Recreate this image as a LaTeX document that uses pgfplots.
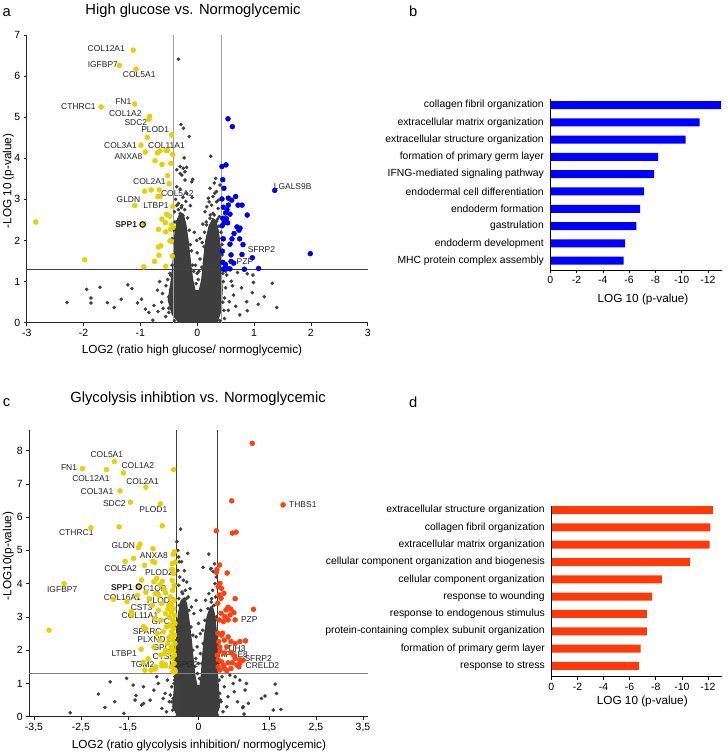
\documentclass[border=0pt]{standalone}
\usepackage{fontspec}
\setmainfont{Liberation Sans}
\usepackage{pgfplots}
\pgfplotsset{compat=1.18}

\definecolor{dgrey}{RGB}{62,62,62}
\definecolor{yel}{RGB}{232,208,0}
\definecolor{bpt}{RGB}{0,0,240}
\definecolor{bbar}{RGB}{0,0,255}
\definecolor{rpt}{RGB}{255,64,16}
\definecolor{rbar}{RGB}{255,58,10}
\definecolor{lgrey}{RGB}{160,160,160}

\newcommand{\gene}{\fontsize{8.5}{9}\selectfont}
\newcommand{\axlab}{\fontsize{11.8}{13}\selectfont}
\newcommand{\ttl}{\fontsize{14.8}{16}\selectfont}

\pgfplotsset{
  volc/.style={
    scale only axis, clip=false,
    axis lines=left, axis line style={-, black!85, line width=0.8bp},
    tick align=outside, major tick length=3bp,
    tick style={black!85, line width=0.6bp},
    tick label style={font=\fontsize{10.5}{12}\selectfont},
    /pgf/number format/assume math mode=true,
  },
  greyp/.style={only marks, mark=*, mark size=1.6bp, color=dgrey},
  yelp/.style={only marks, mark=*, mark size=2.5bp, color=yel},
  gobar/.style={
    scale only axis, clip=false, xbar, bar width=8bp,
    y dir=reverse, x dir=reverse, xmin=-13.05, xmax=0,
    ytick={1,...,10}, xtick={0,-2,...,-12},
    axis x line*=bottom, axis y line*=left,
    axis line style={-, black, line width=0.9bp},
    tick align=outside, major tick length=3bp,
    ytick style={draw=none},
    tick style={black, line width=0.6bp},
    tick label style={font=\fontsize{10.5}{12}\selectfont},
    yticklabel style={font=\fontsize{10.4}{12}\selectfont},
    /pgf/number format/assume math mode=true,
  },
}

\begin{document}
\begin{tikzpicture}
\path[use as bounding box] (0bp,0bp) rectangle (728bp,753bp);

% ---------- panel a ----------
\begin{axis}[volc, at={(26.7bp,430.3bp)}, anchor=south west,
  width=341bp, height=287.7bp,
  xmin=-3, xmax=3, ymin=0, ymax=7,
  xtick={-3,...,3}, ytick={0,...,7}]
\addplot[fill=dgrey, draw=none] coordinates {
 (-0.33,0) (-0.45,0.2) (-0.52,0.55) (-0.47,1.0) (-0.44,1.4) (-0.42,1.8) (-0.40,2.2)
 (-0.36,2.5) (-0.30,2.7) (-0.24,2.65) (-0.19,2.4) (-0.15,2.0) (-0.11,1.5) (-0.07,1.05)
 (-0.03,0.8) (0.03,0.8) (0.07,1.05) (0.10,1.5) (0.14,2.0) (0.20,2.35) (0.27,2.55)
 (0.33,2.5) (0.38,2.25) (0.42,1.8) (0.43,1.3) (0.45,0.8) (0.43,0.3) (0.36,0)};
\addplot[greyp] coordinates {
 (-0.33,6.41) (-0.285,4.82) (-0.24,4.73) (-0.14,4.53) (0.24,4.05) (-0.23,4.01)
 (-0.30,3.80) (-0.245,3.76) (-0.185,3.78) (-0.36,3.72) (-0.215,3.67) (-0.27,3.59)
 (-0.08,3.49) (-0.30,3.63) (-0.215,3.47) (-0.097,3.43) (-0.36,3.31) (-0.185,3.15)
 (-0.30,3.25) (-0.25,3.05) (-0.38,3.0) (-0.33,2.9) (-0.20,2.95) (-0.12,2.85)
 (-0.28,2.80) (-0.40,2.70) (-0.36,2.85) (-0.09,3.05)
 (0.325,3.51) (0.30,3.40) (0.225,3.27) (0.31,3.15) (0.195,3.03) (0.34,2.94)
 (0.255,2.86) (0.37,2.78) (0.137,2.70) (0.28,2.66) (0.39,2.58) (0.225,2.54)
 (0.34,2.46) (0.167,2.38) (0.28,3.07) (0.34,3.19) (0.17,2.82) (0.37,2.98)
 (0.21,2.94) (0.40,3.35) (0.10,2.40) (0.05,2.05) (-0.05,2.20) (0.0,1.70)
 (-0.03,1.40) (0.03,1.25)
 (-1.945,0.81) (-2.29,0.49) (-1.87,0.60) (-1.87,0.48) (-1.71,0.86) (-1.58,0.49)
 (-1.46,0.37) (-1.335,0.57) (-1.22,0.92) (-1.15,0.83) (-1.05,0.48) (-0.98,0.57)
 (-0.91,0.33) (-0.85,0.25) (-0.78,0.06) (-0.76,0.42) (-0.70,0.79) (-0.69,0.27)
 (-0.61,0.71) (-0.625,0.50) (-0.555,0.15) (-0.50,0.63) (-0.52,1.05) (-0.55,0.90)
 (-0.60,0.35) (-0.50,0.25) (-0.48,1.20) (-0.66,1.00)
 (0.52,1.16) (0.60,1.01) (0.99,0.98) (0.98,1.16) (1.32,0.96) (1.18,0.63)
 (1.075,0.45) (1.40,0.37) (0.88,0.29) (0.75,0.19) (0.64,0.67) (0.565,0.51)
 (0.71,1.22) (0.88,1.19) (0.97,0.73) (0.87,0.51) (0.50,0.85) (0.55,0.30)
 (0.48,0.60) (0.68,0.40) (0.62,0.90) (0.50,1.25) (0.78,0.85) (0.48,0.10)
 (-0.44,1.4) (-0.40,1.95) (-0.41,2.25) (-0.36,2.45) (-0.30,2.65) (-0.25,2.6)
 (-0.47,0.8) (-0.45,0.5) (0.44,1.9) (0.42,2.2) (0.38,2.35) (0.44,1.45)
 (0.46,1.0) (0.45,0.5) (-0.12,1.9) (-0.08,1.4) (0.08,1.35) (0.12,1.85)
 (-0.17,2.55) (-0.14,2.25) (-0.22,2.75) (-0.10,1.75) (-0.06,1.25) (0.02,1.05)
 (-0.02,0.95) (0.05,1.55) (0.09,1.95) (0.16,2.45) (0.13,2.2) (0.23,2.62)
 (0.30,2.62) (0.36,2.52) (0.41,2.35) (0.43,2.05) (0.44,1.65) (0.45,1.2)
 (-0.43,1.65) (-0.44,2.05) (-0.39,2.45) (-0.33,2.75) (-0.27,2.85) (-0.46,1.15)
 (-0.5,0.35) (0.47,0.3) (0.40,0.05) (-0.40,0.05) (0.0,1.2) (-0.01,2.0)};
\draw[lgrey, line width=1.5bp] (axis cs:-0.42,0) -- (axis cs:-0.42,7);
\draw[lgrey, line width=1.5bp] (axis cs:0.43,0) -- (axis cs:0.43,7);
\draw[black!75, line width=0.8bp] (axis cs:-3,1.3) -- (axis cs:3,1.3);
\addplot[yelp] coordinates {
 (-1.124,6.63) (-1.37,6.26) (-1.077,6.17) (-1.69,5.25) (-1.10,5.32) (-0.836,5.02)
 (-0.848,4.95) (-0.449,4.57) (-0.878,4.51) (-0.989,4.32) (-0.70,4.13) (-0.655,4.18)
 (-0.549,4.19) (-0.52,4.19) (-0.43,4.09) (-0.913,4.15) (-0.743,3.94) (-0.62,3.85)
 (-0.466,3.88) (-0.52,3.58) (-0.49,3.38) (-0.925,3.20) (-0.81,3.23) (-0.667,3.23)
 (-0.69,3.07) (-0.655,3.07) (-1.10,2.85) (-0.43,2.83) (-0.537,2.64) (-0.484,2.59)
 (-0.62,2.52) (-0.56,2.43) (-0.449,2.38) (-0.426,2.32) (-0.47,2.27) (-0.68,2.27)
 (-0.555,2.21) (-2.84,2.45) (-0.479,1.99) (-0.455,1.98) (-0.68,1.84) (-0.64,1.87)
 (-0.672,1.64) (-0.44,1.62) (-1.98,1.53) (-0.75,1.49) (-0.94,1.36) (-0.555,1.37)};
\addplot[only marks, mark=*, mark size=2.8bp, mark options={fill=yel, draw=black, line width=1bp}]
 coordinates {(-0.96,2.39)};
\addplot[only marks, mark=*, mark size=2.5bp, color=bpt] coordinates {
 (0.542,4.96) (0.618,4.77) (0.507,3.84) (0.436,3.80) (0.449,3.48) (0.47,3.27)
 (1.364,3.22) (0.436,3.01) (0.548,3.03) (0.607,2.98) (0.677,3.07) (0.718,2.86)
 (0.79,2.86) (0.46,2.81) (0.548,2.86) (0.524,2.75) (0.50,2.67) (0.577,2.64)
 (0.88,2.62) (0.45,2.54) (0.512,2.53) (0.477,2.43) (0.536,2.43) (0.44,2.36)
 (0.70,2.33) (0.753,2.30) (0.735,2.25) (0.648,2.17) (0.46,2.04) (0.612,2.04)
 (0.747,2.04) (0.577,1.91) (0.806,1.90) (0.442,1.74) (0.595,1.65) (0.788,1.66)
 (0.97,1.58) (1.99,1.68) (0.45,1.47) (0.495,1.42) (0.595,1.49) (0.642,1.45)
 (0.46,1.30) (0.52,1.32) (0.577,1.31) (0.83,1.30) (1.08,1.32) (0.495,1.36)};
\begin{scope}[every node/.style={font=\gene, text=black!85, inner sep=0pt}]
\node at (axis cs:-1.60,6.68) {COL12A1};
\node at (axis cs:-1.66,6.29) {IGFBP7};
\node at (axis cs:-1.02,6.03) {COL5A1};
\node at (axis cs:-2.09,5.26) {CTHRC1};
\node at (axis cs:-1.30,5.38) {FN1};
\node at (axis cs:-1.265,5.08) {COL1A2};
\node at (axis cs:-1.08,4.88) {SDC2};
\node at (axis cs:-0.74,4.69) {PLOD1};
\node at (axis cs:-1.35,4.32) {COL3A1};
\node at (axis cs:-0.54,4.32) {COL11A1};
\node at (axis cs:-1.21,4.04) {ANXA8};
\node at (axis cs:-0.84,3.43) {COL2A1};
\node at (axis cs:-0.35,3.15) {COL5A2};
\node at (axis cs:-1.21,3.00) {GLDN};
\node at (axis cs:-0.725,2.86) {LTBP1};
\node[font=\gene\bfseries] at (axis cs:-1.25,2.39) {SPP1};
\node at (axis cs:1.68,3.31) {LGALS9B};
\node at (axis cs:1.13,1.77) {SFRP2};
\node at (axis cs:0.84,1.48) {PZP};
\end{scope}
\end{axis}

% ---------- panel c ----------
\begin{axis}[volc, at={(29.3bp,36.3bp)}, anchor=south west,
  width=338.4bp, height=286.7bp,
  xmin=-3.6, xmax=3.6, ymin=0, ymax=8.62,
  xtick={-3.5,-2.5,-1.5,0,1.5,2.5,3.5},
  xticklabels={{-3,5},{-2,5},{-1,5},0,{1,5},{2,5},{3,5}},
  ytick={0,...,8}]
\addplot[fill=dgrey, draw=none] coordinates {
 (-0.45,0) (-0.56,0.3) (-0.53,0.8) (-0.50,1.4) (-0.49,2.0) (-0.47,2.6) (-0.44,3.1)
 (-0.38,3.5) (-0.30,3.6) (-0.24,3.4) (-0.19,2.9) (-0.14,2.3) (-0.10,1.7) (-0.06,1.2)
 (-0.02,0.95) (0.02,0.95) (0.05,1.3) (0.08,1.9) (0.12,2.5) (0.17,3.0) (0.24,3.3)
 (0.30,3.35) (0.35,3.1) (0.39,2.6) (0.40,2.0) (0.41,1.4) (0.44,0.8) (0.46,0.3) (0.38,0)};
\addplot[greyp] coordinates {
 (-0.38,5.64) (-0.46,5.26) (-0.23,4.91) (-0.36,4.66) (-0.41,4.66) (-0.30,4.39)
 (0.10,4.49) (0.22,4.89) (0.27,4.46) (0.31,4.36) (0.26,4.44) (-0.44,5.0)
 (-0.40,4.2) (-0.32,4.1) (-0.25,4.05) (-0.42,3.95) (-0.28,3.8) (-0.35,3.75)
 (-0.18,3.85) (-0.22,3.6) (-0.15,3.3) (-0.10,3.1) (0.35,4.0) (0.30,3.8)
 (0.22,3.7) (0.36,3.6) (0.15,3.5) (0.28,3.55) (0.05,3.2) (0.38,4.2) (0.34,4.6)
 (-0.05,3.5) (-0.44,4.4) (-0.42,4.8) (0.0,2.8) (-0.05,2.4) (0.04,2.5)
 (-2.73,0.12) (-2.13,0.68) (-1.99,0.28) (-1.88,1.05) (-1.78,0.45) (-1.59,0.10)
 (-1.33,0.64) (-1.17,0.90) (-1.21,0.35) (-1.03,0.50) (-0.95,0.80) (-0.855,1.00)
 (-0.78,0.25) (-0.71,0.70) (-0.62,0.45) (-0.57,0.90) (-0.55,0.20) (-0.89,1.20)
 (-0.66,1.10) (-1.53,1.15) (-1.39,0.95) (-1.35,0.50) (-1.17,0.40) (-0.60,0.65)
 (-0.52,1.0) (-0.75,0.55) (-0.68,0.15) (-0.54,0.55) (-0.50,1.2)
 (0.78,1.20) (0.74,1.00) (0.88,1.10) (0.76,0.75) (0.99,0.80) (1.06,0.40)
 (1.34,0.55) (1.415,0.62) (1.63,0.98) (1.66,0.70) (1.59,0.20) (1.755,0.22)
 (0.94,0.27) (0.97,0.08) (0.63,0.60) (0.60,0.30) (0.83,0.45) (1.02,1.0)
 (0.95,0.30) (0.50,1.2) (0.55,0.90) (0.48,0.45) (0.67,1.25) (0.52,0.15) (0.45,0.7)
 (-0.49,1.7) (-0.47,2.3) (-0.45,2.9) (-0.41,3.35) (0.40,1.8) (0.39,2.4) (0.36,2.9)
 (-0.12,2.0) (-0.08,1.5) (0.07,1.6) (0.10,2.2)
 (-0.20,3.2) (-0.16,2.7) (-0.12,2.45) (-0.26,3.55) (-0.34,3.7) (-0.42,3.55)
 (-0.06,1.75) (-0.02,1.3) (0.02,1.15) (0.04,1.9) (0.09,2.6) (0.14,2.9)
 (0.20,3.25) (0.27,3.45) (0.33,3.35) (0.38,3.0) (0.41,2.2) (0.42,1.6)
 (0.44,1.1) (0.47,0.5) (-0.51,1.1) (-0.52,1.6) (-0.50,2.2) (-0.48,2.7)
 (-0.57,0.45) (0.40,0.05) (-0.45,0.05) (0.0,1.6) (-0.03,2.1)};
\draw[black!75, line width=0.8bp] (axis cs:-0.48,0) -- (axis cs:-0.48,8.62);
\draw[black!75, line width=0.8bp] (axis cs:0.40,0) -- (axis cs:0.40,8.62);
\draw[black!50, line width=0.9bp] (axis cs:-3.6,1.3) -- (axis cs:3.6,1.3);
\addplot[yelp] coordinates {
 (-1.79,7.67) (-2.47,7.46) (-1.96,7.43) (-1.60,7.33) (-0.53,7.43) (-1.12,6.90)
 (-1.67,6.79) (-1.45,6.45) (-0.81,6.40) (-2.29,5.68) (-1.69,5.71) (-0.77,5.74)
 (-1.245,5.19) (-1.28,5.08) (-0.97,5.05) (-0.51,4.96) (-0.54,4.88) (-1.38,4.76)
 (-1.56,4.67) (-1.145,4.55) (-0.975,4.67) (-0.93,4.64) (-0.56,4.60) (-0.49,4.65)
 (-0.57,4.43) (-2.86,4.00) (-1.81,3.53) (-1.52,3.46) (-1.43,3.16) (-3.18,2.60)
 (-1.22,2.03) (-1.07,1.74) (-1.14,1.40) (-0.93,1.43) (-0.78,1.53) (-0.70,1.53)
 (-0.50,1.35)
 (-1.21,4.11) (-1.12,3.74) (-0.95,4.06) (-0.89,4.16) (-0.77,4.07) (-0.82,3.97)
 (-0.73,3.83) (-0.92,3.70) (-0.85,3.65) (-0.70,3.72) (-0.55,4.42) (-0.53,4.30)
 (-0.56,4.10) (-0.52,3.95) (-0.55,3.80) (-0.60,3.60) (-0.52,3.50) (-0.57,3.40)
 (-0.63,3.35) (-0.53,3.25) (-0.58,3.15) (-0.51,3.05) (-0.62,3.00) (-0.55,2.90)
 (-0.50,2.80) (-0.60,2.75) (-0.53,2.65) (-0.57,2.55) (-0.51,2.45) (-0.62,2.40)
 (-0.55,2.30) (-0.50,2.20) (-0.58,2.10) (-0.53,2.00) (-0.60,1.95) (-0.51,1.85)
 (-0.56,1.75) (-0.52,1.60) (-0.58,1.50) (-0.50,1.40) (-0.54,1.35)
 (-1.42,3.06) (-1.17,2.71) (-1.12,2.64) (-1.17,1.64) (-1.01,1.40) (-0.91,1.50)
 (-0.78,1.62) (-0.71,1.58) (-0.80,1.85) (-0.72,1.90) (-0.82,2.30) (-0.75,2.55)
 (-0.88,2.50) (-0.80,2.90) (-0.70,3.10) (-0.65,3.25) (-0.85,3.20) (-0.98,3.35)
 (-1.05,3.55) (-0.78,3.40) (-0.68,2.70) (-0.66,2.20) (-0.70,2.00) (-0.95,2.10)
 (-0.93,2.95) (-1.30,3.65)};
\addplot[only marks, mark=*, mark size=2.8bp, mark options={fill=yel, draw=black, line width=1bp}]
 coordinates {(-1.27,3.91)};
\addplot[only marks, mark=*, mark size=2.5bp, color=rpt] coordinates {
 (1.145,8.22) (1.80,6.37) (0.706,6.49) (0.38,5.59) (0.72,5.52) (0.80,5.55)
 (0.45,4.56) (0.39,4.42) (0.38,4.34) (0.61,4.32) (0.457,4.01) (0.42,3.91)
 (0.49,3.86) (0.54,3.71) (0.44,3.66) (0.48,3.56) (0.78,3.55) (0.41,3.41)
 (0.63,3.29) (0.69,3.23) (0.585,3.21) (0.755,3.13) (1.17,3.23) (0.48,3.11)
 (0.56,3.01) (0.67,3.06) (0.44,2.91) (0.53,2.86) (0.63,2.91) (0.78,2.91)
 (0.41,2.51) (0.49,2.45) (0.63,2.40) (0.55,2.30) (0.43,2.26) (0.69,2.26)
 (1.0,2.28) (0.78,2.20) (0.88,2.26) (0.60,2.10) (0.46,1.98) (0.55,1.91)
 (0.69,1.93) (0.78,1.75) (0.88,1.71) (0.42,1.71) (0.49,1.65) (0.63,1.62)
 (0.82,1.55) (0.86,1.50) (0.42,1.50) (0.55,1.45) (0.69,1.45) (0.45,1.40)
 (0.60,1.38) (0.51,2.51) (0.88,1.61) (0.75,1.85) (0.95,1.70) (0.40,1.85)
 (0.45,2.10) (0.53,1.55) (0.72,1.62)};
\begin{scope}[every node/.style={font=\gene, text=black!85, inner sep=0pt}]
\node at (axis cs:-1.95,7.89) {COL5A1};
\node at (axis cs:-2.755,7.49) {FN1};
\node at (axis cs:-1.29,7.54) {COL1A2};
\node at (axis cs:-2.29,7.17) {COL12A1};
\node at (axis cs:-1.19,7.07) {COL2A1};
\node at (axis cs:-2.16,6.77) {COL3A1};
\node at (axis cs:-1.79,6.40) {SDC2};
\node at (axis cs:-0.96,6.22) {PLOD1};
\node at (axis cs:-2.60,5.53) {CTHRC1};
\node at (axis cs:-1.60,5.13) {GLDN};
\node at (axis cs:-0.95,4.85) {ANXA8};
\node at (axis cs:-1.655,4.44) {COL5A2};
\node at (axis cs:-0.84,4.34) {PLOD2};
\node at (axis cs:-2.90,3.81) {IGFBP7};
\node[font=\gene\bfseries] at (axis cs:-1.63,3.88) {SPP1};
\node at (axis cs:-0.925,3.84) {C1QB};
\node at (axis cs:-1.62,3.59) {COL16A1};
\node at (axis cs:-0.80,3.48) {PLOD3};
\node at (axis cs:-1.21,3.29) {CST3};
\node at (axis cs:-1.245,3.04) {COL11A1};
\node at (axis cs:-0.75,2.86) {GPC1};
\node at (axis cs:-1.09,2.56) {SPARC};
\node at (axis cs:-0.95,2.31) {PLXND1};
\node at (axis cs:-0.73,2.09) {GPC4};
\node at (axis cs:-1.58,1.89) {LTBP1};
\node at (axis cs:-0.73,1.80) {CTSH};
\node at (axis cs:-1.19,1.58) {TGM2};
\node at (axis cs:-0.31,1.58) {HSPG2};
\node at (axis cs:2.22,6.39) {THBS1};
\node at (axis cs:1.08,2.93) {PZP};
\node at (axis cs:0.78,2.06) {ITIH3};
\node at (axis cs:0.74,1.86) {MFGE8};
\node at (axis cs:1.27,1.74) {SFRP2};
\node at (axis cs:1.36,1.55) {CRELD2};
\end{scope}
\end{axis}

% ---------- panel b ----------
\begin{axis}[gobar, at={(550.3bp,483bp)}, anchor=south west,
  width=171.4bp, height=171bp, ymin=0.65, ymax=10.54,
  yticklabels={collagen fibril organization, extracellular matrix organization,
   extracellular structure organization, formation of primary germ layer,
   IFNG-mediated signaling pathway, endodermal cell differentiation,
   endoderm formation, gastrulation, endoderm development,
   MHC protein complex assembly}]
\addplot[fill=bbar, draw=none] coordinates {
 (-13.0,1) (-11.37,2) (-10.3,3) (-8.2,4) (-7.9,5)
 (-7.14,6) (-6.84,7) (-6.56,8) (-5.70,9) (-5.59,10)};
\draw[black, line width=0.9bp] (axis cs:0,0.65) -- (axis cs:0,10.54);
\end{axis}

% ---------- panel d ----------
\begin{axis}[gobar, at={(551.3bp,76.3bp)}, anchor=south west,
  width=170.4bp, height=171bp, ymin=0.75, ymax=10.62,
  yticklabels={extracellular structure organization, collagen fibril organization,
   extracellular matrix organization, cellular component organization and biogenesis,
   cellular component organization, response to wounding,
   response to endogenous stimulus, protein-containing complex subunit organization,
   formation of primary germ layer, response to stress}]
\addplot[fill=rbar, draw=none] coordinates {
 (-12.38,1) (-12.18,2) (-12.13,3) (-10.62,4) (-8.46,5)
 (-7.72,6) (-7.31,7) (-7.31,8) (-6.85,9) (-6.73,10)};
\draw[black, line width=0.9bp] (axis cs:0,0.75) -- (axis cs:0,10.62);
\end{axis}

% ---------- titles and labels ----------
\node[font=\ttl] at (193bp,742bp) {High glucose vs. Normoglycemic};
\node[font=\ttl] at (198bp,354.5bp) {Glycolysis inhibtion vs. Normoglycemic};
\node[font=\ttl] at (6.7bp,740bp) {a};
\node[font=\ttl] at (413.3bp,741.3bp) {b};
\node[font=\ttl] at (6.5bp,350bp) {c};
\node[font=\ttl] at (413.3bp,350.3bp) {d};
\node[font=\axlab] at (192bp,403bp) {LOG2 (ratio high glucose/ normoglycemic)};
\node[font=\axlab, rotate=90] at (8.3bp,572bp) {-LOG 10 (p-value)};
\node[font=\axlab] at (199bp,8bp) {LOG2 (ratio glycolysis inhibition/ normoglycemic)};
\node[font=\axlab, rotate=90] at (8.3bp,197bp) {-LOG10(p-value)};
\node[font=\axlab] at (643bp,454bp) {LOG 10 (p-value)};
\node[font=\axlab] at (642.3bp,52bp) {LOG 10 (p-value)};
\end{tikzpicture}
\end{document}
